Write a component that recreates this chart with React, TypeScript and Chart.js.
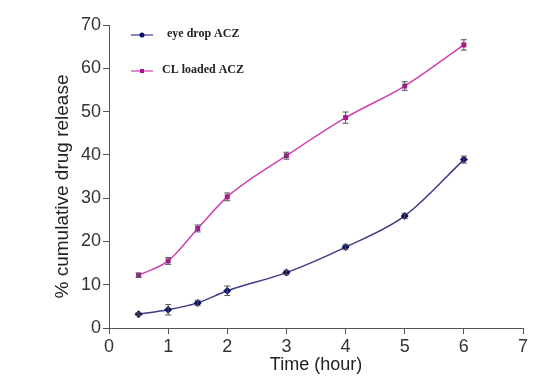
import React, { useEffect, useRef } from "react";
import { Chart, registerables } from "chart.js";

Chart.register(...registerables);

const timeHours = [0.5, 1, 1.5, 2, 3, 4, 5, 6];
const eyeDropValues = [3.2, 4.2, 5.8, 8.6, 12.8, 18.7, 25.9, 38.9];
const eyeDropErrors = [0.3, 1.2, 0.6, 1.1, 0.5, 0.5, 0.6, 0.8];
const clLoadedValues = [12.2, 15.5, 23.0, 30.3, 39.8, 48.6, 55.9, 65.4];
const clLoadedErrors = [0.5, 0.8, 0.8, 0.9, 0.8, 1.3, 1.0, 1.2];
const xTicks = [0, 1, 2, 3, 4, 5, 6, 7];
const yTicks = [0, 10, 20, 30, 40, 50, 60, 70];
const seriesNames = ["eye drop ACZ", "CL loaded ACZ"];
const xTitle = "Time (hour)";
const yTitle = "% cumulative drug release";

const EYE_LINE = "#3c3c86";
const EYE_MARK = "#0d0d6b";
const CL_LINE = "#d040b0";
const CL_MARK = "#b0128f";
const SANS = "'Liberation Sans', Arial, sans-serif";

const errorBarPlugin = {
  id: "errorBars",
  afterDatasetsDraw(chart: any) {
    const ctx = chart.ctx;
    const xs = chart.scales.x;
    const ys = chart.scales.y;
    const errs = [eyeDropErrors, clLoadedErrors];
    ctx.save();
    ctx.strokeStyle = "#555";
    ctx.lineWidth = 1;
    chart.data.datasets.forEach((ds: any, di: number) => {
      ds.data.forEach((p: any, i: number) => {
        const x = xs.getPixelForValue(p.x);
        const yTop = ys.getPixelForValue(p.y + errs[di][i]);
        const yBot = ys.getPixelForValue(p.y - errs[di][i]);
        ctx.beginPath();
        ctx.moveTo(x, yTop);
        ctx.lineTo(x, yBot);
        ctx.moveTo(x - 3, yTop);
        ctx.lineTo(x + 3, yTop);
        ctx.moveTo(x - 3, yBot);
        ctx.lineTo(x + 3, yBot);
        ctx.stroke();
      });
    });
    ctx.restore();
  },
};

const yTitlePlugin = {
  id: "yTitle",
  afterDraw(chart: any) {
    const ctx = chart.ctx;
    const area = chart.chartArea;
    ctx.save();
    ctx.translate(area.left - 46, (area.top + area.bottom) / 2 + 10);
    ctx.rotate(-Math.PI / 2);
    ctx.fillStyle = "#222";
    ctx.font = `19px ${SANS}`;
    ctx.textAlign = "center";
    ctx.textBaseline = "middle";
    ctx.fillText(yTitle, 0, 0);
    ctx.restore();
  },
};

const legendPlugin = {
  id: "insideLegend",
  afterDraw(chart: any) {
    const ctx = chart.ctx;
    const area = chart.chartArea;
    const items = [
      { name: seriesNames[0], line: EYE_LINE, mark: EYE_MARK, shape: "circle", dy: 10 },
      { name: seriesNames[1], line: CL_LINE, mark: CL_MARK, shape: "rect", dy: 46 },
    ];
    ctx.save();
    items.forEach((it, idx) => {
      const y = area.top + it.dy;
      const x0 = area.left + 22;
      ctx.strokeStyle = it.line;
      ctx.lineWidth = 1.2;
      ctx.beginPath();
      ctx.moveTo(x0, y);
      ctx.lineTo(x0 + 22, y);
      ctx.stroke();
      ctx.fillStyle = it.mark;
      if (it.shape === "circle") {
        ctx.beginPath();
        ctx.arc(x0 + 11, y, 2.5, 0, Math.PI * 2);
        ctx.fill();
      } else {
        ctx.fillRect(x0 + 9, y - 2, 4, 4);
      }
      ctx.fillStyle = "#222";
      ctx.font = "bold 12px 'Liberation Serif', 'Times New Roman', serif";
      ctx.textBaseline = "middle";
      ctx.textAlign = "left";
      ctx.fillText(it.name, x0 + (idx === 0 ? 36 : 31), y - 1);
    });
    ctx.restore();
  },
};

export default function App() {
  const ref = useRef<HTMLCanvasElement | null>(null);
  useEffect(() => {
    if (!ref.current) return;
    const chart = new Chart(ref.current, {
      type: "line",
      data: {
        datasets: [
          {
            label: seriesNames[0],
            data: timeHours.map((t, i) => ({ x: t, y: eyeDropValues[i] })),
            borderColor: EYE_LINE,
            backgroundColor: EYE_MARK,
            borderWidth: 1.5,
            pointStyle: "rectRot",
            pointRadius: 4,
            pointBorderWidth: 0,
            cubicInterpolationMode: "monotone",
          },
          {
            label: seriesNames[1],
            data: timeHours.map((t, i) => ({ x: t, y: clLoadedValues[i] })),
            borderColor: CL_LINE,
            backgroundColor: CL_MARK,
            borderWidth: 1.5,
            pointStyle: "rect",
            pointRadius: 3.5,
            pointBorderWidth: 0,
            cubicInterpolationMode: "monotone",
          },
        ],
      },
      options: {
        animation: false,
        responsive: false,
        maintainAspectRatio: false,
        layout: { padding: { left: 52, top: 25, right: 29, bottom: 9 } },
        plugins: { legend: { display: false }, tooltip: { enabled: false } },
        scales: {
          x: {
            type: "linear",
            min: 0,
            max: 7,
            afterBuildTicks: (s: any) => {
              s.ticks = xTicks.map((v) => ({ value: v }));
            },
            afterFit: (s: any) => {
              s.height = 48;
            },
            grid: { drawOnChartArea: false, drawTicks: true, tickLength: 6, color: "#555" },
            border: { display: true, color: "#555", width: 1 },
            ticks: {
              color: "#333",
              font: { family: SANS, size: 18 },
              padding: 2,
              maxRotation: 0,
            },
            title: {
              display: true,
              text: xTitle,
              color: "#222",
              font: { family: SANS, size: 18 },
              padding: { top: 0, bottom: 0 },
            },
          },
          y: {
            type: "linear",
            min: 0,
            max: 70,
            afterBuildTicks: (s: any) => {
              s.ticks = yTicks.map((v) => ({ value: v }));
            },
            afterFit: (s: any) => {
              s.width = 57;
            },
            grid: { drawOnChartArea: false, drawTicks: true, tickLength: 6, color: "#555" },
            border: { display: true, color: "#555", width: 1 },
            ticks: {
              color: "#333",
              font: { family: SANS, size: 18 },
              padding: 2,
            },
            title: { display: false },
          },
        },
      },
      plugins: [errorBarPlugin, legendPlugin, yTitlePlugin],
    } as any);
    return () => chart.destroy();
  }, []);
  return (
    <div style={{ position: "fixed", left: 0, top: 0, width: 552, height: 385, background: "#fff" }}>
      <canvas ref={ref} width={552} height={385} style={{ width: 552, height: 385 }} />
    </div>
  );
}
